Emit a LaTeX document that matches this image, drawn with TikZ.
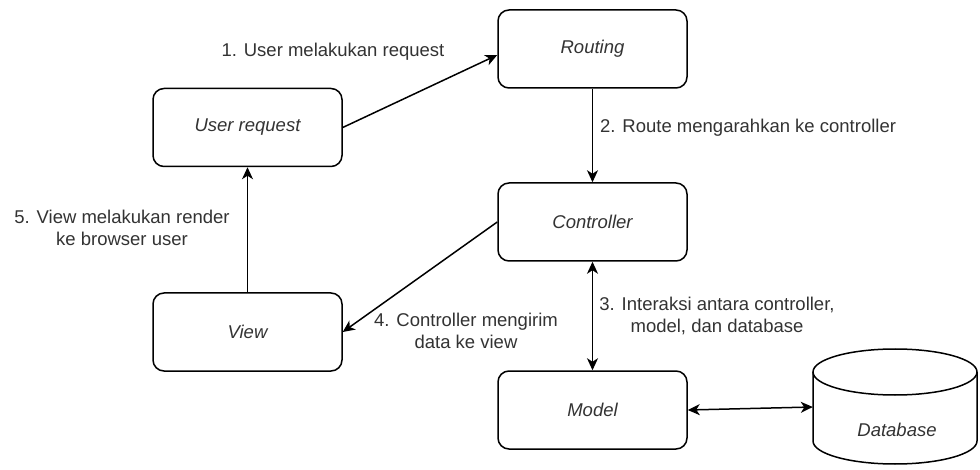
\documentclass[tikz,border=0pt]{standalone}
\usepackage{fontspec}
\setmainfont{Liberation Sans}
\usetikzlibrary{arrows.meta}
\definecolor{txt}{HTML}{333333}
\begin{document}
\begin{tikzpicture}[x=1pt,y=-1pt,
  box/.style={draw, line width=1.5pt, rounded corners=11pt, minimum width=189pt, minimum height=78pt, inner sep=0pt, font=\fontsize{18.5}{22.2}\selectfont\itshape, text=txt},
  lbl/.style={font=\fontsize{18.5}{22.2}\selectfont, text=txt, align=center, inner sep=0pt},
  tipa/.tip={Stealth[length=12pt,width=11pt,inset=3.5pt]},
  conn/.style={line width=1.5pt, -tipa},
  conntwo/.style={line width=1.5pt, tipa-tipa}
]
\useasboundingbox[fill=white] (0,0) rectangle (980,470);

\node[box] (ureq) at (247.5,127.5) {User request};
\node[box] (routing) at (592.5,49) {Routing};
\node[box] (ctrl) at (592.5,222) {Controller};
\node[box] (view) at (247.5,332) {View};
\node[box] (model) at (592.5,410) {Model};

% database cylinder
\draw[line width=1.5pt, fill=white] (813,372) -- (813,441) arc[start angle=180,end angle=0,x radius=82,y radius=23] -- (977,372);
\draw[line width=1.5pt] (895,372) ellipse [x radius=82, y radius=23];
\node[minimum width=164pt, minimum height=118pt, inner sep=0pt] (db) at (895,407) {};
\node[lbl, font=\fontsize{18.5}{22.2}\selectfont\itshape] (dbtext) at (897,430) {Database};

% connectors
\draw[conn] (ureq.east) -- ([yshift=-6pt]routing.west);
\draw[conn] (routing.south) -- (ctrl.north);
\draw[conntwo] (ctrl.south) -- (model.north);
\draw[conn] (ctrl.west) -- (view.east);
\draw[conn] (view.north) -- (ureq.south);
\draw[conntwo] (model.east) -- (db.west);

% labels
\node[lbl] (l1) at (333,52) {1. User melakukan request};
\node[lbl, anchor=west] (l2) at (600,128) {2. Route mengarahkan ke controller};
\node[lbl] (l3) at (717,316) {3. Interaksi antara controller,\\model, dan database};
\node[lbl] (l4) at (466,331) {4. Controller mengirim\\data ke view};
\node[lbl] (l5) at (122,228) {5. View melakukan render\\ke browser user};
\end{tikzpicture}
\end{document}
